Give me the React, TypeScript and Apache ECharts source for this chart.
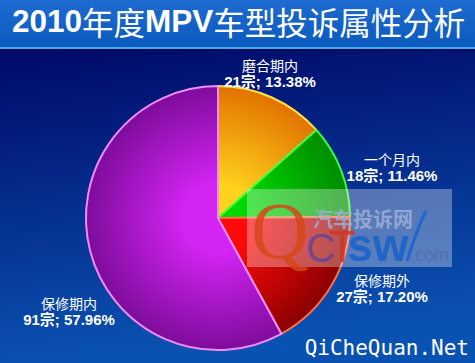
import React, { useEffect, useRef } from "react";
import * as echarts from "echarts";

// ---- data ----
const categories = ["磨合期内", "一个月内", "保修期外", "保修期内"];
const counts = [21, 18, 27, 91];
const chartTitle = "2010年度MPV车型投诉属性分析";
const watermarkSite = "QiCheQuan.Net";

// ---- styles / layout ----
const W = 475;
const H = 363;
const CX = 218;
const CY = 218;
const R = 132;
const innerColors = ["#ffd21c", "#00d800", "#ff0a0a", "#d424f4"];
const outerColors = ["#e27200", "#008c00", "#8a0000", "#7e0c9c"];
const borderColors = ["#ffe040", "#3cff3c", "#ff7040", "#f08cff"];
const labelOffsets = [
  [52, -145],
  [174, -51],
  [164, 70],
  [-149, 93],
];

export default function App() {
  const ref = useRef<HTMLDivElement>(null);

  useEffect(() => {
    if (!ref.current) return;
    const chart = echarts.init(ref.current, undefined, { renderer: "svg" });
    const total = counts.reduce((a, b) => a + b, 0);

    const data = categories.map((name, i) => ({
      name,
      value: counts[i],
      itemStyle: {
        color: {
          type: "radial",
          x: CX,
          y: CY,
          r: R,
          global: true,
          colorStops: [
            { offset: 0, color: innerColors[i] },
            { offset: 0.25, color: innerColors[i] },
            { offset: 1, color: outerColors[i] },
          ],
        },
        borderColor: borderColors[i],
        borderWidth: 2,
      },
    }));

    const titleParts = [
      "{a|" + chartTitle.slice(0, 4) + "}",
      "{b|" + chartTitle.slice(4, 6) + "}",
      "{a|" + chartTitle.slice(6, 9) + "}",
      "{b|" + chartTitle.slice(9) + "}",
    ].join("");

    const wm = (el: any) => ({ z: 100, zlevel: 0, ...el });

    chart.setOption({
      animation: false,
      backgroundColor: {
        type: "linear",
        x: 0,
        y: 0,
        x2: 0.15,
        y2: 1,
        colorStops: [
          { offset: 0, color: "#000862" },
          { offset: 0.15, color: "#000a6a" },
          { offset: 1, color: "#0a52b2" },
        ],
      },
      title: {
        text: titleParts,
        left: 12,
        top: 2,
        padding: 0,
        textStyle: {
          rich: {
            a: {
              fontFamily: "Liberation Sans, Arial, sans-serif",
              fontWeight: "bold",
              fontSize: 31.5,
              color: "#ffffff",
              lineHeight: 38,
            },
            b: {
              fontFamily: "Noto Sans CJK SC, sans-serif",
              fontWeight: "normal",
              fontSize: 31.5,
              color: "#ffffff",
              lineHeight: 38,
            },
          },
        },
      },
      graphic: [
        {
          type: "rect",
          z: -1,
          shape: { x: 0, y: 0, width: W, height: 47 },
          style: {
            fill: {
              type: "linear",
              x: 0,
              y: 0,
              x2: 0,
              y2: 1,
              colorStops: [
                { offset: 0, color: "#1d6ad0" },
                { offset: 1, color: "#0d5abf" },
              ],
            },
          },
        },
        {
          type: "rect",
          z: -1,
          shape: { x: 0, y: 47, width: W, height: 2 },
          style: { fill: "#42aaf2" },
        },
        {
          type: "rect",
          z: -1,
          shape: { x: 0, y: 49, width: W, height: 2 },
          style: { fill: "#000850" },
        },
        // watermark box
        wm({
          type: "rect",
          shape: { x: 247, y: 189, width: 205, height: 78 },
          style: { fill: "rgba(255,255,255,0.32)" },
        }),
        wm({
          type: "text",
          x: 313,
          y: 218,
          style: {
            text: "汽车投诉网",
            font: "bold 20px 'Noto Sans CJK SC', sans-serif",
            fill: "rgba(160,175,215,0.85)",
            verticalAlign: "middle",
            align: "left",
          },
        }),
        wm({
          type: "text",
          x: 251,
          y: 231,
          style: {
            text: "Q",
            font: "80px 'Liberation Serif', serif",
            fill: "rgba(214,70,24,0.85)",
            verticalAlign: "middle",
            align: "left",
          },
        }),
        wm({
          type: "text",
          x: 306,
          y: 248,
          style: {
            text: "C",
            font: "40px 'Liberation Sans', sans-serif",
            fill: "rgba(100,70,150,0.9)",
            verticalAlign: "middle",
            align: "left",
          },
        }),
        wm({
          type: "text",
          x: 329,
          y: 246,
          style: {
            text: "T",
            font: "44px 'Liberation Sans', sans-serif",
            fill: "rgba(214,52,28,0.9)",
            verticalAlign: "middle",
            align: "left",
          },
        }),
        wm({
          type: "text",
          x: 347,
          y: 245,
          style: {
            text: "sw",
            font: "bold 46px 'Liberation Sans', sans-serif",
            fill: "rgba(30,100,200,0.95)",
            verticalAlign: "middle",
            align: "left",
          },
        }),
        wm({
          type: "text",
          x: 410,
          y: 255,
          style: {
            text: ".com",
            font: "18px 'Liberation Sans', sans-serif",
            fill: "rgba(80,110,175,0.95)",
            verticalAlign: "middle",
            align: "left",
          },
        }),
        wm({
          type: "bezierCurve",
          shape: {
            x1: 407,
            y1: 261,
            cpx1: 412,
            cpy1: 245,
            x2: 426,
            y2: 211,
            cpx2: 419,
            cpy2: 225,
          },
          style: { stroke: "rgba(30,100,210,0.95)", lineWidth: 3, fill: "none" },
        }),
        wm({
          type: "text",
          x: 469,
          y: 348,
          style: {
            text: watermarkSite,
            font: "21px 'DejaVu Sans Mono', monospace",
            fill: "#ffffff",
            align: "right",
            verticalAlign: "middle",
          },
        }),
      ],
      series: [
        {
          type: "pie",
          z: 2,
          center: [CX, CY],
          radius: R,
          startAngle: 90,
          clockwise: true,
          avoidLabelOverlap: false,
          data,
          label: {
            show: true,
            position: "outside",
            formatter: (p: any) =>
              "{a|" +
              p.name +
              "}\n{c|" +
              p.value +
              "宗; " +
              ((p.value / total) * 100).toFixed(2) +
              "%}",
            rich: {
              a: {
                fontFamily: "Noto Sans CJK SC, sans-serif",
                fontSize: 14,
                color: "#ffffff",
                lineHeight: 17,
                align: "center",
              },
              c: {
                fontFamily: "Liberation Sans, Arial, Noto Sans CJK SC, sans-serif",
                fontWeight: "bold",
                fontSize: 15,
                color: "#ffffff",
                lineHeight: 17,
                align: "center",
              },
            },
          },
          labelLine: { show: false },
          labelLayout: (params: any) => {
            const off = labelOffsets[params.dataIndex];
            return {
              x: CX + off[0],
              y: CY + off[1],
              align: "center",
              verticalAlign: "middle",
            };
          },
          emphasis: { disabled: true },
        },
      ],
    });

    return () => chart.dispose();
  }, []);

  return (
    <div
      ref={ref}
      style={{ position: "fixed", left: 0, top: 0, width: W, height: H }}
    />
  );
}
